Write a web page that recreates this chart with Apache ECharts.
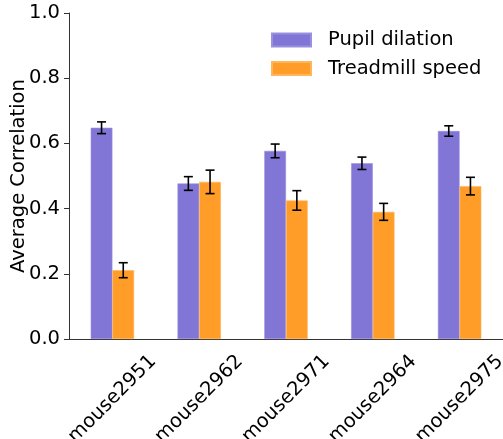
<!DOCTYPE html>
<html>
<head>
<meta charset="utf-8">
<script src="https://cdn.jsdelivr.net/npm/echarts@6/dist/echarts.min.js"></script>
<style>html,body{margin:0;padding:0;background:#fff}#c{width:503px;height:439px}</style>
</head>
<body>
<div id="c"></div>
<script>
const categories = ['mouse2951', 'mouse2962', 'mouse2971', 'mouse2964', 'mouse2975'];
const pupilValues = [0.648, 0.477, 0.577, 0.539, 0.638];
const pupilErrors = [0.018, 0.021, 0.021, 0.019, 0.016];
const treadValues = [0.211, 0.482, 0.425, 0.390, 0.469];
const treadErrors = [0.023, 0.036, 0.030, 0.026, 0.027];
const yTicks = [0, 0.2, 0.4, 0.6, 0.8, 1.0];

const FONT = 'DejaVu Sans';
const FS = 19.5;
const BAR_W = 21.7;
const chart = echarts.init(document.getElementById('c'), null, {renderer: 'canvas'});

function errSeries(values, errors, offset) {
  return {
    type: 'custom',
    z: 10,
    silent: true,
    data: values.map((v, i) => [i, v - errors[i], v + errors[i]]),
    renderItem: function (params, api) {
      const i = api.value(0);
      const lo = api.coord([i, api.value(1)]);
      const hi = api.coord([i, api.value(2)]);
      const x = lo[0] + offset;
      const cap = 4.5;
      const st = {stroke: '#000', lineWidth: 1.6};
      return {
        type: 'group',
        children: [
          {type: 'line', shape: {x1: x, y1: lo[1], x2: x, y2: hi[1]}, style: st},
          {type: 'line', shape: {x1: x - cap, y1: lo[1], x2: x + cap, y2: lo[1]}, style: st},
          {type: 'line', shape: {x1: x - cap, y1: hi[1], x2: x + cap, y2: hi[1]}, style: st}
        ]
      };
    }
  };
}

chart.setOption({
  animation: false,
  backgroundColor: '#fff',
  textStyle: {fontFamily: FONT},
  grid: {left: 69, right: 0, top: 13, bottom: 100, containLabel: false, outerBoundsMode: 'none'},
  legend: {
    orient: 'vertical',
    left: 271,
    top: 29,
    padding: 0,
    itemWidth: 39,
    itemHeight: 13,
    itemGap: 6.5,
    icon: 'rect',
    textStyle: {fontFamily: FONT, fontSize: FS, color: '#000', lineHeight: 22, padding: [0, 0, 0, 12]},
    data: ['Pupil dilation', 'Treadmill speed']
  },
  xAxis: {
    type: 'category',
    data: categories,
    boundaryGap: true,
    axisLine: {lineStyle: {color: '#333', width: 1}},
    axisTick: {alignWithLabel: true, length: 5, lineStyle: {color: '#333'}},
    axisLabel: {
      rotate: 45, align: 'center', verticalAlign: 'middle', margin: 60,
      fontFamily: FONT, fontSize: FS, color: '#000', interval: 0
    },
    splitLine: {show: false}
  },
  yAxis: {
    type: 'value',
    min: 0, max: 1, interval: 0.2,
    name: 'Average Correlation',
    nameLocation: 'middle',
    nameGap: 40,
    nameMoveOverlap: false,
    nameTextStyle: {fontFamily: FONT, fontSize: FS, color: '#000'},
    axisLine: {show: true, lineStyle: {color: '#333', width: 1}},
    axisTick: {show: true, length: 5, lineStyle: {color: '#333'}},
    axisLabel: {
      margin: 9, fontFamily: FONT, fontSize: FS, color: '#000',
      formatter: v => yTicks.some(t => Math.abs(t - v) < 1e-9) ? v.toFixed(1) : ''
    },
    splitLine: {show: false}
  },
  series: [
    {name: 'Pupil dilation', type: 'bar', data: pupilValues, barWidth: BAR_W, barGap: '0%',
      itemStyle: {color: '#8175d6', borderColor: '#9a90e0', borderWidth: 0.6}},
    {name: 'Treadmill speed', type: 'bar', data: treadValues, barWidth: BAR_W, barGap: '0%',
      itemStyle: {color: '#ff9d28', borderColor: '#ffb55c', borderWidth: 0.6}},
    errSeries(pupilValues, pupilErrors, -BAR_W / 2),
    errSeries(treadValues, treadErrors, BAR_W / 2)
  ]
});
</script>
</body>
</html>
